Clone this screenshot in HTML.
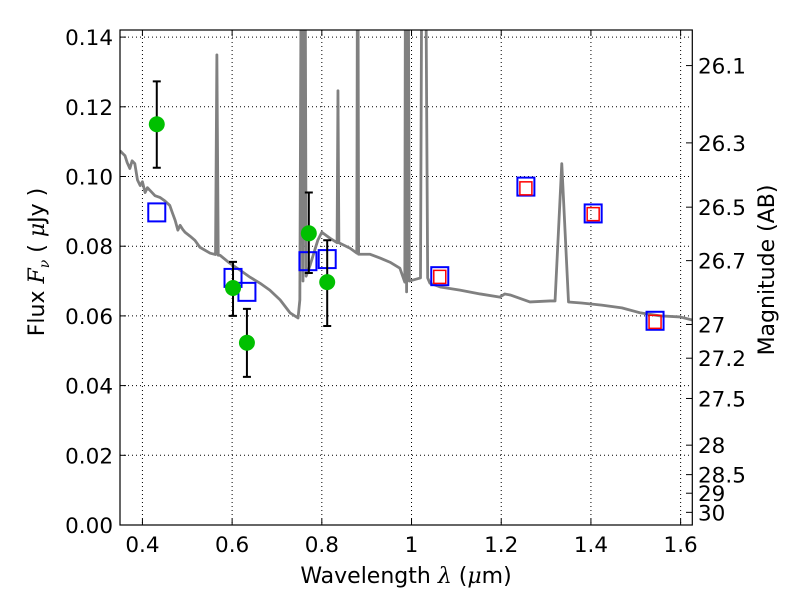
<!DOCTYPE html>
<html><head><meta charset="utf-8"><style>
body{margin:0;background:#fff}
svg text{font-family:"DejaVu Sans","Liberation Sans",sans-serif;fill:#000}
</style></head><body>
<svg id="chart" width="800" height="600" xmlns="http://www.w3.org/2000/svg">
<defs><clipPath id="clip"><rect x="120" y="30" width="572.3" height="495"/></clipPath></defs>
<g id="grid"></g>
<g id="spec" clip-path="url(#clip)"></g>
<g id="marks"></g>
<rect x="120" y="30" width="572.3" height="495" fill="none" stroke="#000" stroke-width="1.2"/>
<g id="ticks"></g>
<text x="406" y="583" font-size="22" text-anchor="middle">Wavelength  <tspan font-style="italic" font-family="DejaVu Serif,serif">λ</tspan> (<tspan font-style="italic" font-family="DejaVu Serif,serif">μ</tspan>m)</text>
<text transform="translate(44,262) rotate(-90)" font-size="22" text-anchor="middle">Flux  <tspan font-style="italic" font-family="DejaVu Serif,serif">F</tspan><tspan font-style="italic" font-family="DejaVu Serif,serif" font-size="14" dy="5">ν</tspan><tspan dy="-5">  ( </tspan><tspan font-style="italic" font-family="DejaVu Serif,serif">μ</tspan>Jy )</text>
<text transform="translate(774,270) rotate(-90)" font-size="22" text-anchor="middle">Magnitude (AB)</text>
</svg>
<script>
const xTicks=[0.4,0.6,0.8,1.0,1.2,1.4,1.6];
const xTickLabels=["0.4","0.6","0.8","1","1.2","1.4","1.6"];
const yTicks=[0,0.02,0.04,0.06,0.08,0.10,0.12,0.14];
const yTickLabels=["0.00","0.02","0.04","0.06","0.08","0.10","0.12","0.14"];
const magTicks=[26.1,26.3,26.5,26.7,27,27.2,27.5,28,28.5,29,30];
const magTickLabels=["26.1","26.3","26.5","26.7","27","27.2","27.5","28","28.5","29","30"];
const specWl=[0.350,0.356,0.361,0.366,0.372,0.377,0.383,0.389,0.395,0.400,0.406,0.411,0.417,0.428,0.439,0.450,0.461,0.467,0.473,0.479,0.484,0.490,0.495,0.506,0.517,0.528,0.551,0.563,0.566,0.569,0.573,0.595,0.618,0.640,0.662,0.684,0.707,0.729,0.747,0.751,0.755,0.758,0.762,0.765,0.774,0.791,0.800,0.818,0.834,0.836,0.838,0.863,0.878,0.880,0.882,0.907,0.930,0.952,0.974,0.985,0.987,0.989,0.992,0.995,1.020,1.024,1.030,1.036,1.041,1.064,1.108,1.153,1.197,1.208,1.220,1.242,1.264,1.309,1.320,1.335,1.350,1.379,1.424,1.469,1.509,1.554,1.599,1.627];
const specFlux=[.1074,.1066,.1060,.1040,.1023,.1045,.1037,.0990,.0974,.0985,.0954,.0968,.0960,.0945,.0940,.0930,.0917,.0895,.0874,.0846,.0860,.0848,.0840,.0829,.0817,.0797,.0780,.0776,.1349,.0774,.0774,.0751,.0731,.0711,.0694,.0674,.0646,.0609,.0594,.0646,.2,.0700,.2,.0714,.0746,.0817,.0840,.0823,.0810,.1246,.0810,.0794,.0780,.2,.0777,.0777,.0766,.0754,.0737,.0697,.2,.0669,.2,.0700,.0709,.2,.2,.0709,.0694,.0683,.0674,.0663,.0654,.0663,.0660,.0650,.0640,.0643,.0643,.1037,.0640,.0637,.0631,.0623,.0609,.0600,.0597,.0588];
const obsWl=[0.432,0.602,0.633,0.771,0.812];
const obsFlux=[0.115,0.068,0.0523,0.0837,0.0697];
const obsLo=[0.1025,0.0600,0.0425,0.0723,0.0571];
const obsHi=[0.1273,0.0755,0.0620,0.0954,0.0817];
const modWl=[0.432,0.602,0.633,0.769,0.812,1.063,1.255,1.405,1.543];
const modFlux=[0.0897,0.0709,0.0669,0.0757,0.0763,0.0714,0.0971,0.0894,0.0586];
const redWl=[1.063,1.255,1.405,1.543];
const redFlux=[0.0712,0.0966,0.0892,0.0583];

const X=v=>120+(v-0.35)*448.5;
const Y=v=>525-v*3485;
const NS='http://www.w3.org/2000/svg';
function mk(tag,attrs,parent){const e=document.createElementNS(NS,tag);for(const k in attrs)e.setAttribute(k,attrs[k]);parent.appendChild(e);return e;}
const grid=document.getElementById('grid'),ticks=document.getElementById('ticks');
xTicks.forEach((t,i)=>{
 const g=mk('line',{x1:X(t),x2:X(t),y1:30,y2:525,stroke:'#000','stroke-width':1,'stroke-dasharray':'1,3'},grid);
 
 
 mk('line',{x1:X(t),x2:X(t),y1:525,y2:519,stroke:'#000'},ticks);
 mk('line',{x1:X(t),x2:X(t),y1:30,y2:36,stroke:'#000'},ticks);
 const l=mk('text',{x:X(t),y:552,'font-size':21.5,'text-anchor':'middle'},ticks);
 l.textContent=xTickLabels[i];
 
 
});
yTicks.forEach((t,i)=>{
 if(t>0){const g=mk('line',{x1:120,x2:692.3,y1:Y(t),y2:Y(t),stroke:'#000','stroke-width':1,'stroke-dasharray':'1,3'},grid);
 
 }
 mk('line',{x1:120,x2:126,y1:Y(t),y2:Y(t),stroke:'#000'},ticks);
 const l=mk('text',{x:113,y:Y(t)+8,'font-size':21.5,'text-anchor':'end'},ticks);
 l.textContent=yTickLabels[i];
 
 
});
magTicks.forEach((m,i)=>{
 const y=Y(Math.pow(10,(23.9-m)/2.5));
 mk('line',{x1:692.3,x2:686,y1:y,y2:y,stroke:'#000'},ticks);
 const l=mk('text',{x:698,y:y+8,'font-size':21.5},ticks);
 l.textContent=magTickLabels[i];
 
 
});
const spec=document.getElementById('spec');
const pl=mk('polyline',{points:specWl.map((w,i)=>X(w)+','+Y(specFlux[i])).join(' '),fill:'none',stroke:'#808080','stroke-width':2.8,'stroke-linejoin':'round'},spec);


const marks=document.getElementById('marks');
modWl.forEach((w,i)=>{
 const r=mk('rect',{x:X(w)-8.5,y:Y(modFlux[i])-9,width:17,height:18,fill:'none',stroke:'#0000ff','stroke-width':2},marks);
 
 
});
redWl.forEach((w,i)=>{
 const r=mk('rect',{x:X(w)-6,y:Y(redFlux[i])-6.5,width:12,height:13,fill:'none',stroke:'#ff0000','stroke-width':1.5},marks);
 
 
});
obsWl.forEach((w,i)=>{
 const x=X(w);
 const e=mk('path',{d:`M${x},${Y(obsLo[i])}V${Y(obsHi[i])}M${x-4},${Y(obsLo[i])}h8M${x-4},${Y(obsHi[i])}h8`,stroke:'#000','stroke-width':2,fill:'none'},marks);
 
 
 const c=mk('circle',{cx:x,cy:Y(obsFlux[i]),r:8,fill:'#00c000'},marks);
 
 
});
</script>
</body></html>
